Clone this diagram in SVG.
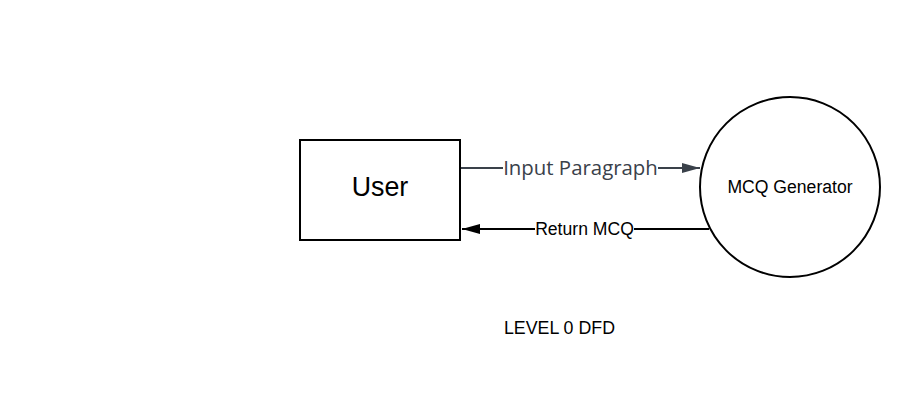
<svg xmlns="http://www.w3.org/2000/svg" width="920" height="400" viewBox="0 0 920 400">
<style>
.node{fill:#fff;stroke:#000;stroke-width:2}
.t{font-family:"Liberation Sans",Arial,sans-serif;fill:#000;text-anchor:middle}
.lbl{font-family:"Liberation Sans",Arial,sans-serif;font-size:17.6px;text-anchor:middle}
</style>
<defs>
<marker id="ag" markerWidth="18" markerHeight="12" refX="18" refY="6" orient="auto" markerUnits="userSpaceOnUse"><path d="M0,1 L18,6 L0,11 Z" fill="#3a414a"/></marker>
<marker id="ab" markerWidth="18" markerHeight="12" refX="18" refY="6" orient="auto" markerUnits="userSpaceOnUse"><path d="M0,1 L18,6 L0,11 Z" fill="#000"/></marker>
</defs>
<rect width="920" height="400" fill="#fff"/>
<g id="connectors">
<line x1="461" y1="168" x2="700" y2="168" stroke="#3a414a" stroke-width="2" marker-end="url(#ag)"/>
<rect x="503" y="156" width="155" height="24" fill="#fff"/>
<text x="580.5" y="175" font-family="'Open Sans','Noto Sans',sans-serif" font-size="20.4" fill="#3a414a" text-anchor="middle">Input Paragraph</text>
<line x1="709" y1="229" x2="462" y2="229" stroke="#000" stroke-width="2" marker-end="url(#ab)"/>
<rect x="535" y="218" width="99" height="22" fill="#fff"/>
<text x="584.5" y="235" class="lbl">Return MCQ</text>
</g>
<g id="user">
<rect class="node" x="300" y="140" width="160" height="100"/>
<text class="t" x="380" y="196" font-size="26.8">User</text>
</g>
<g id="mcq-generator">
<circle class="node" cx="790" cy="187" r="90"/>
<text class="t" x="790" y="193" font-size="17.6">MCQ Generator</text>
</g>
<g id="caption">
<text class="t" x="559.5" y="334" font-size="17.8">LEVEL 0 DFD</text>
</g>
</svg>
